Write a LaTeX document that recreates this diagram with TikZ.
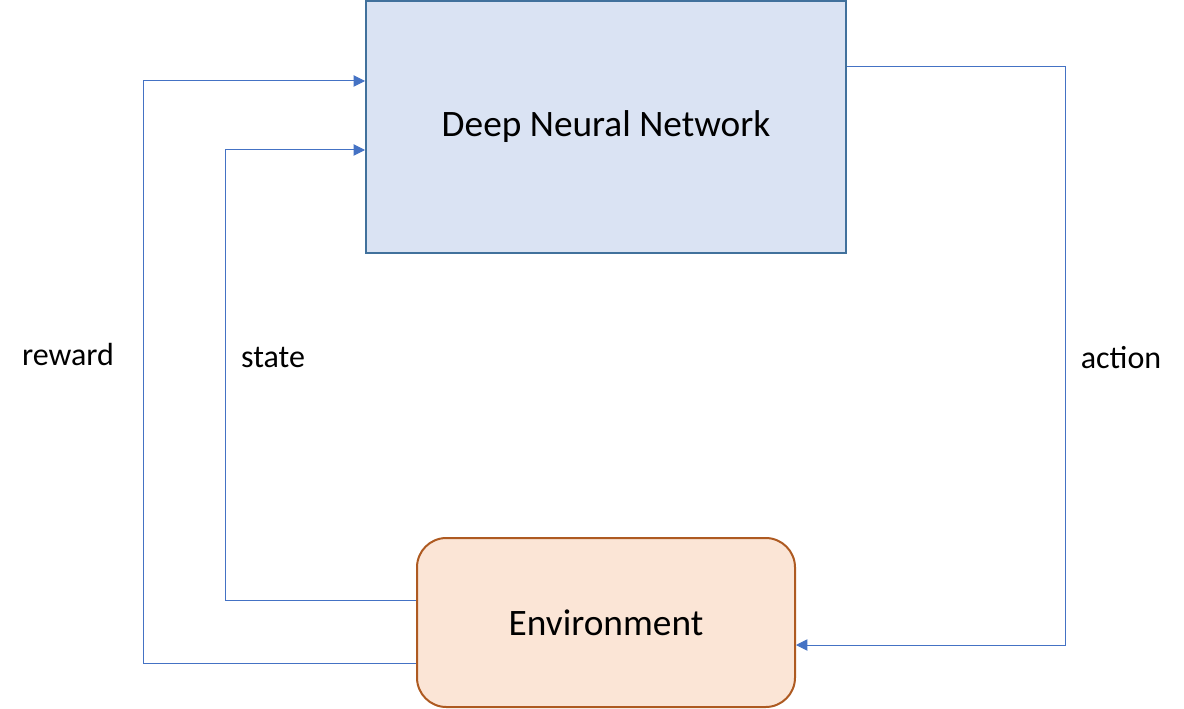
\documentclass[tikz,border=0pt]{standalone}
\usepackage{fontspec}
\setmainfont{Carlito}
\usetikzlibrary{arrows.meta}
\definecolor{dnnfill}{HTML}{DAE3F3}
\definecolor{dnnline}{HTML}{41719C}
\definecolor{envfill}{HTML}{FBE5D6}
\definecolor{envline}{HTML}{AE5A21}
\definecolor{conncol}{HTML}{4472C4}
\tikzset{
  dnnbox/.style={draw=dnnline, fill=dnnfill, line width=1.5pt, minimum width=360pt, minimum height=189pt, inner sep=0pt, font=\fontsize{28}{32}\selectfont},
  envbox/.style={draw=envline, fill=envfill, line width=1.5pt, rounded corners=22pt, minimum width=283.5pt, minimum height=126.75pt, inner sep=0pt, font=\fontsize{28}{32}\selectfont},
  conn/.style={draw=conncol, line width=0.75pt},
  arr/.style={conn, -{Triangle[length=8.5pt,width=8.5pt]}},
  lbl/.style={font=\fontsize{24}{28}\selectfont, inner sep=0pt}
}
\begin{document}
\begin{tikzpicture}[x=0.75pt, y=-0.75pt]
\useasboundingbox (0,0) rectangle (1184,709);
\node[dnnbox] (dnn) at (606,127) {Deep Neural Network};
\node[envbox] (env) at (606,622.5) {Environment};
% reward
\coordinate (r1) at (143,663);
\coordinate (r2) at (143,81);
\draw[arr] (env.west |- r1) -- (r1) -- (r2) -- (r2 -| dnn.west);
% state
\coordinate (s1) at (225,600);
\coordinate (s2) at (225,150);
\draw[arr] (env.west |- s1) -- (s1) -- (s2) -- (s2 -| dnn.west);
% action
\coordinate (a1) at (1065,67);
\coordinate (a2) at (1065,645);
\draw[arr] (dnn.east |- a1) -- (a1) -- (a2) -- (a2 -| env.east);
\node[lbl] (lr) at (68,355) {reward};
\node[lbl] (ls) at (273,357) {state};
\node[lbl] (la) at (1121,358) {action};
\end{tikzpicture}
\end{document}
